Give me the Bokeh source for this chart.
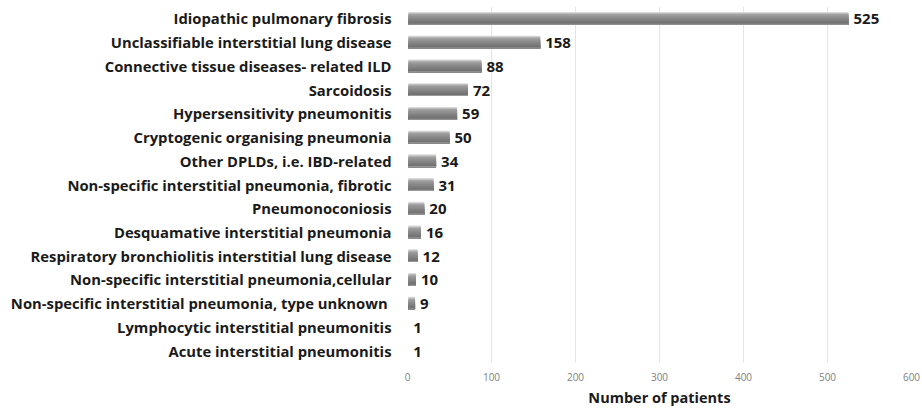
from bokeh.plotting import figure
from bokeh.models import FactorRange, Range1d, ColumnDataSource, FixedTicker
from bokeh.transform import dodge
from bokeh.core.properties import value
from bokeh.embed import file_html
from bokeh.resources import INLINE

categories = [
    "Idiopathic pulmonary fibrosis",
    "Unclassifiable interstitial lung disease",
    "Connective tissue diseases- related ILD",
    "Sarcoidosis",
    "Hypersensitivity pneumonitis",
    "Cryptogenic organising pneumonia",
    "Other DPLDs, i.e. IBD-related",
    "Non-specific interstitial pneumonia, fibrotic",
    "Pneumonoconiosis",
    "Desquamative interstitial pneumonia",
    "Respiratory bronchiolitis interstitial lung disease",
    "Non-specific interstitial pneumonia,cellular",
    "Non-specific interstitial pneumonia, type unknown ",
    "Lymphocytic interstitial pneumonitis",
    "Acute interstitial pneumonitis",
]
patients = [525, 158, 88, 72, 59, 50, 34, 31, 20, 16, 12, 10, 9, 1, 1]
x_ticks = [0, 100, 200, 300, 400, 500, 600]

FONT = "Open Sans"

src = ColumnDataSource(dict(cat=categories, n=patients, lbl=[str(v) for v in patients]))

p = figure(
    y_range=FactorRange(*categories[::-1], range_padding=0),
    x_range=Range1d(0, 600),
    frame_width=504, frame_height=356,
    output_backend="svg", toolbar_location=None,
    min_border_left=407, min_border_right=11, min_border_top=6, min_border_bottom=48,
)
p.outline_line_color = None
p.background_fill_color = "white"
p.border_fill_color = "white"

# cylinder-like shading: nested bars, each from the bar bottom up to a lower top edge
shades = ["#dadada", "#b9b9b9", "#a3a3a3", "#999999", "#929292", "#8c8c8c",
          "#868686", "#818181", "#7b7b7b", "#767676", "#727272", "#9a9a9a"]
total_h = 0.54
n_layers = len(shades)
lh = total_h / n_layers
bottom = -total_h / 2
for i, col in enumerate(shades):
    top = total_h / 2 - lh * i
    p.hbar(y=dodge("cat", (top + bottom) / 2, range=p.y_range), right="n", left=1,
           height=top - bottom, source=src, fill_color=col, line_color=None)

p.text(x="n", y="cat", text="lbl", source=src, x_offset=5, y_offset=1,
       text_baseline="middle", text_align="left",
       text_font=value(FONT), text_font_style="bold", text_font_size="15px",
       text_color="#1a1a1a")

p.xaxis.ticker = FixedTicker(ticks=x_ticks)
p.xaxis.axis_line_color = None
p.xaxis.major_tick_line_color = None
p.xaxis.minor_tick_line_color = None
p.xaxis.major_label_text_font = FONT
p.xaxis.major_label_text_font_size = "10px"
p.xaxis.major_label_text_color = "#808080"
p.xaxis.major_label_standoff = 4
p.xaxis.axis_label = "Number of patients"
p.xaxis.axis_label_text_font = FONT
p.xaxis.axis_label_text_font_style = "bold"
p.xaxis.axis_label_text_font_size = "14.5px"
p.xaxis.axis_label_text_color = "#1a1a1a"
p.xaxis.axis_label_standoff = 4

p.yaxis.axis_line_color = None
p.yaxis.major_tick_line_color = None
p.yaxis.minor_tick_line_color = None
p.yaxis.major_label_text_font = FONT
p.yaxis.major_label_text_font_style = "bold"
p.yaxis.major_label_text_font_size = "14.8px"
p.yaxis.major_label_text_color = "#1a1a1a"
p.yaxis.major_label_standoff = 10

p.ygrid.grid_line_color = None
p.xgrid.grid_line_color = "#e4e4e4"
p.xgrid.grid_line_width = 1

open("out.html", "w").write(file_html(p, INLINE))
